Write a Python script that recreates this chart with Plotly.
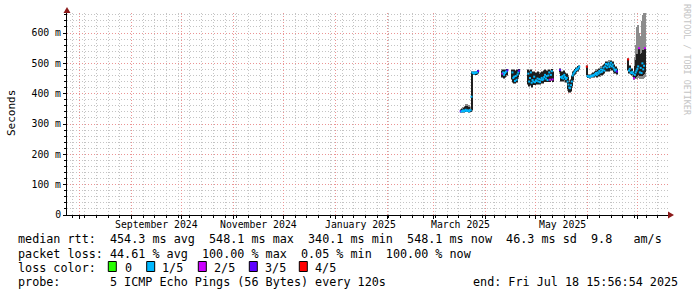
import plotly.graph_objects as go

# ---------------- data ----------------
times = [
    "2025-03-17 00:00", "2025-03-17 12:00", "2025-03-18 00:00", "2025-03-18 12:00", "2025-03-19 00:00",
    "2025-03-19 12:00", "2025-03-20 00:00", "2025-03-20 12:00", "2025-03-21 00:00", "2025-03-21 12:00",
    "2025-03-22 00:00", "2025-03-22 12:00", "2025-03-23 00:00", "2025-03-23 12:00", "2025-03-24 00:00",
    "2025-03-24 12:00", "2025-03-25 00:00", "2025-03-25 12:00", "2025-03-26 00:00", "2025-03-26 12:00",
    "2025-03-27 00:00", "2025-03-27 12:00",
    "2025-04-11 00:00", "2025-04-11 12:00", "2025-04-12 00:00", "2025-04-12 12:00", "2025-04-13 00:00",
    "2025-04-13 12:00", "2025-04-14 00:00",
    "2025-04-17 00:00", "2025-04-17 12:00", "2025-04-18 00:00", "2025-04-18 12:00", "2025-04-19 00:00",
    "2025-04-19 12:00", "2025-04-20 00:00", "2025-04-20 12:00", "2025-04-21 00:00",
    "2025-04-26 12:00", "2025-04-27 00:00", "2025-04-27 12:00", "2025-04-28 00:00", "2025-04-28 12:00",
    "2025-04-29 00:00", "2025-04-29 12:00", "2025-04-30 00:00", "2025-04-30 12:00", "2025-05-01 00:00",
    "2025-05-01 12:00", "2025-05-02 00:00", "2025-05-02 12:00", "2025-05-03 00:00", "2025-05-03 12:00",
    "2025-05-04 00:00", "2025-05-04 12:00", "2025-05-05 00:00", "2025-05-05 12:00", "2025-05-06 00:00",
    "2025-05-06 12:00", "2025-05-07 00:00", "2025-05-07 12:00", "2025-05-08 00:00", "2025-05-08 12:00",
    "2025-05-09 00:00", "2025-05-09 12:00", "2025-05-10 00:00", "2025-05-10 12:00", "2025-05-11 00:00",
    "2025-05-15 12:00", "2025-05-16 00:00", "2025-05-16 12:00", "2025-05-17 00:00", "2025-05-17 12:00",
    "2025-05-18 00:00", "2025-05-18 12:00", "2025-05-19 00:00", "2025-05-19 12:00", "2025-05-20 00:00",
    "2025-05-20 12:00", "2025-05-21 00:00", "2025-05-21 12:00", "2025-05-22 00:00", "2025-05-22 12:00",
    "2025-05-23 00:00", "2025-05-23 12:00", "2025-05-24 00:00", "2025-05-24 12:00", "2025-05-25 00:00",
    "2025-05-25 12:00", "2025-05-26 00:00", "2025-05-26 12:00", "2025-05-27 00:00",
    "2025-05-31 12:00", "2025-06-01 00:00", "2025-06-01 12:00", "2025-06-02 00:00", "2025-06-02 12:00",
    "2025-06-03 00:00", "2025-06-03 12:00", "2025-06-04 00:00", "2025-06-04 12:00", "2025-06-05 00:00",
    "2025-06-05 12:00", "2025-06-06 00:00", "2025-06-06 12:00", "2025-06-07 00:00", "2025-06-07 12:00",
    "2025-06-08 00:00", "2025-06-08 12:00", "2025-06-09 00:00", "2025-06-09 12:00", "2025-06-10 00:00",
    "2025-06-10 12:00", "2025-06-11 00:00", "2025-06-11 12:00", "2025-06-12 00:00", "2025-06-12 12:00",
    "2025-06-13 00:00", "2025-06-13 12:00", "2025-06-14 00:00", "2025-06-14 12:00", "2025-06-15 00:00",
    "2025-06-15 12:00", "2025-06-16 00:00", "2025-06-16 12:00", "2025-06-17 00:00", "2025-06-17 12:00",
    "2025-06-18 00:00", "2025-06-18 12:00",
    "2025-06-25 06:00", "2025-06-25 18:00", "2025-06-26 06:00", "2025-06-26 18:00", "2025-06-27 06:00",
    "2025-06-27 18:00", "2025-06-28 06:00", "2025-06-28 18:00", "2025-06-29 06:00", "2025-06-29 18:00",
    "2025-06-30 06:00", "2025-06-30 18:00", "2025-07-01 06:00", "2025-07-01 18:00", "2025-07-02 06:00",
    "2025-07-02 18:00", "2025-07-03 06:00", "2025-07-03 18:00", "2025-07-04 06:00", "2025-07-04 18:00",
    "2025-07-05 06:00",
]

median_ms = [
    342, 341, 343, 345, 342, 344, 347, 343, 345, 344, 342, 346, 345, 390, 470, 468, 466, 470, 468, 471, 470, 475,
    466, 470, 462, 468, 472, 474, 477,
    470, 452, 456, 442, 458, 446, 463, 470, 476,
    466, 440, 452, 470, 436, 445, 440, 456, 438, 444, 442, 450, 440, 448, 438, 446, 452, 445, 448, 455,
    462, 450, 458, 445, 460, 470, 446, 462, 474, 447,
    478, 455, 452, 458, 450, 462, 455, 448, 452, 440, 430, 420, 418, 428, 440, 460, 466, 470, 474, 478,
    481, 480, 485, 489,
    489, 458, 456, 457, 455, 458, 460, 458, 462, 460, 465, 468, 462, 470, 466, 475, 470, 480, 472, 478,
    486, 476, 490, 498, 486, 495, 500, 488, 494, 502, 490, 496, 486, 480, 476, 479, 473,
    513, 476, 482, 470, 468, 472, 466, 451, 462, 470, 476, 482, 490, 550, 470, 485, 468, 500, 480, 492, 550,
]

smoke_lo = [
    338, 338, 339, 340, 339, 340, 341, 340, 340, 340, 339, 341, 340, 345, 390, 462, 462, 465, 463, 466, 465, 468,
    456, 458, 452, 455, 460, 462, 468,
    448, 438, 436, 435, 438, 437, 442, 455, 465,
    432, 426, 428, 430, 423, 428, 430, 432, 430, 432, 434, 435, 432, 434, 433, 436, 440, 436, 438, 440,
    445, 440, 444, 440, 446, 450, 440, 445, 455, 440,
    470, 442, 444, 447, 442, 448, 444, 438, 440, 425, 414, 406, 405, 410, 425, 445, 455, 462, 466, 470,
    474, 474, 478, 482,
    460, 454, 453, 454, 452, 454, 455, 454, 456, 455, 458, 460, 456, 460, 458, 462, 460, 466, 462, 466,
    472, 468, 476, 480, 474, 480, 484, 476, 480, 486, 478, 482, 474, 470, 468, 470, 466,
    478, 468, 470, 464, 462, 465, 460, 448, 452, 455, 458, 460, 462, 470, 458, 462, 458, 465, 462, 466, 470,
]

smoke_hi = [
    347, 346, 348, 350, 352, 355, 358, 350, 360, 352, 356, 350, 348, 392, 472, 472, 470, 473, 471, 474, 473, 477,
    476, 478, 474, 478, 479, 480, 481,
    478, 474, 477, 470, 476, 472, 478, 479, 480,
    478, 468, 474, 478, 462, 470, 458, 472, 462, 468, 465, 470, 458, 466, 455, 468, 472, 465, 470, 475,
    478, 470, 475, 465, 472, 478, 468, 475, 480, 470,
    482, 470, 466, 472, 466, 474, 468, 462, 465, 455, 448, 440, 436, 445, 458, 468, 472, 476, 480, 484,
    486, 487, 490, 492,
    492, 462, 460, 461, 459, 462, 464, 463, 468, 466, 472, 476, 472, 478, 474, 482, 478, 486, 480, 490,
    494, 488, 498, 504, 496, 504, 506, 498, 502, 507, 500, 504, 494, 490, 486, 488, 480,
    516, 484, 490, 478, 475, 480, 472, 470, 490, 510, 530, 525, 520, 552, 520, 530, 512, 535, 545, 540, 552,
]

spread_lo = [
    336, 336, 337, 338, 337, 338, 339, 338, 338, 338, 337, 339, 338, 343, 388, 460, 460, 463, 461, 464, 463, 466,
    452, 455, 450, 452, 456, 458, 465,
    444, 435, 433, 432, 435, 434, 438, 450, 460,
    428, 422, 424, 426, 420, 425, 427, 428, 427, 430, 431, 432, 430, 431, 430, 433, 436, 433, 435, 437,
    441, 437, 440, 437, 442, 446, 437, 441, 450, 437,
    466, 438, 440, 444, 438, 444, 440, 434, 436, 420, 410, 403, 402, 406, 420, 440, 450, 458, 462, 466,
    470, 470, 474, 478,
    456, 452, 451, 452, 450, 452, 453, 452, 453, 452, 455, 456, 453, 456, 455, 458, 456, 462, 458, 462,
    468, 464, 472, 476, 470, 476, 480, 472, 476, 482, 474, 478, 470, 466, 464, 466, 462,
    475, 464, 466, 460, 458, 461, 456, 445, 448, 450, 452, 450, 452, 455, 448, 450, 448, 452, 450, 452, 455,
]

spread_hi = [
    350, 349, 352, 355, 356, 360, 365, 358, 366, 362, 364, 356, 352, 395, 474, 474, 472, 475, 473, 476, 475, 479,
    480, 481, 478, 480, 481, 482, 483,
    480, 478, 480, 474, 479, 476, 480, 481, 482,
    481, 474, 478, 481, 468, 474, 464, 476, 466, 472, 470, 474, 462, 470, 460, 472, 476, 470, 474, 478,
    481, 474, 478, 470, 476, 481, 472, 478, 482, 474,
    485, 474, 470, 475, 470, 477, 472, 466, 468, 460, 452, 445, 440, 450, 462, 472, 475, 479, 483, 487,
    489, 490, 492, 494,
    495, 465, 463, 464, 462, 465, 468, 466, 472, 470, 476, 480, 476, 482, 478, 486, 482, 490, 484, 494,
    498, 492, 502, 508, 500, 508, 510, 502, 506, 510, 504, 508, 498, 494, 490, 492, 484,
    518, 488, 494, 482, 478, 484, 476, 474, 520, 560, 590, 620, 625, 600, 590, 580, 610, 640, 660, 668, 665,
]

loss = [
    3, 1, 1, 1, 1, 1, 1, 1, 1, 1, 1, 1, 1, 1, 1, 1, 1, 1, 1, 1, 1, 3,
    2, 1, 1, 1, 1, 1, 3,
    1, 1, 1, 1, 1, 1, 1, 1, 3,
    1, 1, 1, 1, 1, 1, 1, 1, 1, 1, 1, 1, 1, 1, 1, 1, 1, 1, 1, 1, 1, 1, 1, 1, 1, 1, 2, 1, 1, 2,
    3, 1, 1, 1, 1, 1, 1, 1, 1, 1, 1, 1, 1, 1, 1, 1, 1, 1, 1, 1, 1, 1, 1, 1,
    4, 1, 1, 1, 1, 1, 1, 1, 1, 1, 1, 1, 1, 1, 1, 1, 1, 1, 1, 1, 1, 1, 1, 1, 1, 1, 1, 1, 1, 1, 1, 1, 1, 1, 1, 1, 3,
    4, 1, 1, 1, 1, 1, 1, 2, 1, 1, 1, 1, 1, 2, 1, 1, 1, 1, 1, 1, 2,
]

loss_colors = ["#26ff00", "#00b8ff", "#cc00ff", "#5e00ff", "#ff0000"]
loss_labels = ["0", "1/5", "2/5", "3/5", "4/5"]

y_tickvals = [0, 100, 200, 300, 400, 500, 600]
y_ticktext = ["0", "100 m", "200 m", "300 m", "400 m", "500 m", "600 m"]

month_starts = ["2024-08-01", "2024-09-01", "2024-10-01", "2024-11-01", "2024-12-01", "2025-01-01",
                "2025-02-01", "2025-03-01", "2025-04-01", "2025-05-01", "2025-06-01", "2025-07-01"]
x_label_pos = ["2024-09-16", "2024-11-16", "2025-01-16", "2025-03-17", "2025-05-17"]
x_labels = ["September 2024", "November 2024", "January 2025", "March 2025", "May 2025"]

stat_lines = [
    "median rtt:  454.3 ms avg  548.1 ms max  340.1 ms min  548.1 ms now  46.3 ms sd  9.8   am/s",
    "packet loss: 44.61 % avg  100.00 % max  0.05 % min  100.00 % now",
]
probe_text = "probe:       5 ICMP Echo Pings (56 Bytes) every 120s"
end_text = "end: Fri Jul 18 15:56:54 2025"

# ---------------- layout helpers (pixel -> paper) ----------------
L, R, T, B = 67, 668, 13, 215
W, H = 697, 297


def px(x):
    return (x - L) / (R - L)


def py(y):
    return (B - y) / (B - T)


MONO = "DejaVu Sans Mono"
DAY = 86400000
GRID_MINOR = "#c4c4c4"
GRID_MAJOR = "#eb9494"

fig = go.Figure()

# outer smoke (light)
fig.add_trace(go.Bar(
    x=times, base=spread_lo, y=[h - l for h, l in zip(spread_hi, spread_lo)],
    width=0.62 * DAY, marker=dict(color="#8c8c8c", line_width=0), hoverinfo="skip"))
# inner smoke (dark)
fig.add_trace(go.Bar(
    x=times, base=smoke_lo, y=[h - l for h, l in zip(smoke_hi, smoke_lo)],
    width=0.62 * DAY, marker=dict(color="#1e1e1e", line_width=0), hoverinfo="skip"))
# median coloured by loss
fig.add_trace(go.Scatter(
    x=times, y=median_ms, mode="markers",
    marker=dict(symbol="square", size=2.0, color=[loss_colors[v] for v in loss], line_width=0)))

fig.update_layout(
    width=W, height=H, autosize=False,
    margin=dict(l=L, r=W - R, t=T, b=H - B, pad=0),
    paper_bgcolor="white", plot_bgcolor="white",
    showlegend=False, barmode="overlay", bargap=0,
    font=dict(family=MONO, size=10, color="black"),
)

fig.update_xaxes(
    type="date", range=["2024-07-24 10:00", "2025-07-19 02:00"],
    tickmode="array", tickvals=month_starts, showticklabels=False,
    ticks="outside", ticklen=3, tickcolor="black",
    showgrid=True, gridcolor=GRID_MAJOR, griddash="1px,2px", gridwidth=1,
    minor=dict(dtick=7 * DAY, tick0="2024-07-28", showgrid=True, gridcolor=GRID_MINOR,
               griddash="1px,2px", ticks="outside", ticklen=2, tickcolor="black"),
    showline=True, linecolor="black", linewidth=1, zeroline=False, fixedrange=True,
)
fig.update_yaxes(
    range=[0, 666], tickmode="array", tickvals=y_tickvals, ticktext=y_ticktext,
    ticks="outside", ticklen=3, tickcolor="black",
    tickfont=dict(family=MONO, size=9.8, color="black"),
    showgrid=True, gridcolor=GRID_MAJOR, griddash="1px,2px", gridwidth=1,
    minor=dict(dtick=20, showgrid=True, gridcolor=GRID_MINOR, griddash="1px,2px",
               ticks="outside", ticklen=2, tickcolor="black"),
    showline=True, linecolor="black", linewidth=1, zeroline=False, fixedrange=True,
)

ann = []
for pos, lab in zip(x_label_pos, x_labels):
    ann.append(dict(x=pos, xref="x", y=py(224.5), yref="paper", text=lab, showarrow=False,
                    xanchor="center", yanchor="middle", font=dict(family=MONO, size=9.8, color="black")))

ann.append(dict(x=px(11), y=py(113), xref="paper", yref="paper", text="Seconds", textangle=-90,
                showarrow=False, xanchor="center", yanchor="middle",
                font=dict(family=MONO, size=11, color="black")))
ann.append(dict(x=px(687), y=py(60), xref="paper", yref="paper", text="RRDTOOL / TOBI OETIKER",
                textangle=90, showarrow=False, xanchor="center", yanchor="middle",
                font=dict(family=MONO, size=8.4, color="#c4c4c4")))

NB = "\u00a0"
LEG = 11.75
line_y = [239.5, 253.5, 267.5, 281.5]
for i, t in enumerate(stat_lines):
    ann.append(dict(x=px(16), y=py(line_y[i]), xref="paper", yref="paper", text=t.replace(" ", NB),
                    showarrow=False, xanchor="left", yanchor="middle",
                    font=dict(family=MONO, size=LEG, color="black")))
ann.append(dict(x=px(16), y=py(line_y[2]), xref="paper", yref="paper", text="loss color:".replace(" ", NB),
                showarrow=False, xanchor="left", yanchor="middle",
                font=dict(family=MONO, size=LEG, color="black")))
sq_x = [108.3, 146.7, 198.3, 249.3, 299.3]
lab_x = [122.5, 160, 211.5, 263, 313]
shapes = []
for c, lab, sx, lx in zip(loss_colors, loss_labels, sq_x, lab_x):
    shapes.append(dict(type="rect", xref="paper", yref="paper",
                       x0=px(sx), x1=px(sx + 8), y0=py(271.5), y1=py(261.5),
                       fillcolor=c, line=dict(color="black", width=1)))
    ann.append(dict(x=px(lx), y=py(line_y[2]), xref="paper", yref="paper", text=lab,
                    showarrow=False, xanchor="left", yanchor="middle",
                    font=dict(family=MONO, size=LEG, color="black")))
ann.append(dict(x=px(16), y=py(line_y[3]), xref="paper", yref="paper", text=probe_text.replace(" ", NB),
                showarrow=False, xanchor="left", yanchor="middle",
                font=dict(family=MONO, size=LEG, color="black")))
ann.append(dict(x=px(680), y=py(line_y[3]), xref="paper", yref="paper", text=end_text.replace(" ", NB),
                showarrow=False, xanchor="right", yanchor="middle",
                font=dict(family=MONO, size=LEG, color="black")))

# axis arrows
shapes.append(dict(type="path", xref="paper", yref="paper",
                   path=f"M {px(67)} {py(7)} L {px(63.5)} {py(13)} L {px(70.5)} {py(13)} Z",
                   fillcolor="#8b1a1a", line=dict(width=0)))
shapes.append(dict(type="path", xref="paper", yref="paper",
                   path=f"M {px(674)} {py(215)} L {px(668)} {py(211.5)} L {px(668)} {py(218.5)} Z",
                   fillcolor="#8b1a1a", line=dict(width=0)))

fig.update_layout(annotations=ann, shapes=shapes)
fig.write_html("out.html")
